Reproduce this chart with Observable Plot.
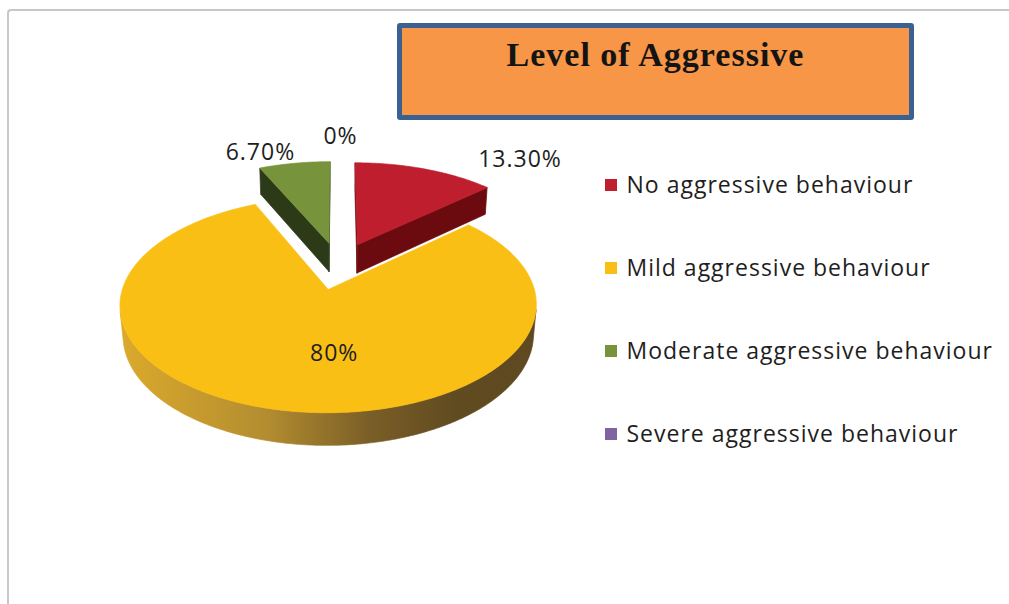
<!DOCTYPE html>
<html>
<head>
<meta charset="utf-8">
<script src="https://cdn.jsdelivr.net/npm/d3@7"></script>
<script src="https://cdn.jsdelivr.net/npm/@observablehq/plot@0.6"></script>
<style>
  html, body { margin: 0; padding: 0; background: #ffffff; }
  #wrap { position: relative; width: 1009px; height: 604px; overflow: hidden; }
  #frame { position: absolute; left: 7px; top: 9px; width: 1100px; height: 700px;
           border-left: 2px solid #c8c8c8; border-top: 2px solid #c8c8c8; border-top-left-radius: 4px; }
  #chart { position: absolute; left: 0; top: 0; }
  #title { position: absolute; left: 397px; top: 23px; width: 507px; height: 87px;
           border: 5px solid #3B6192; border-radius: 3px; background: #F79646; text-align: center;
           font-family: "Liberation Serif", serif; font-weight: bold; font-size: 34px; line-height: 34px;
           letter-spacing: 1px; color: #141414; }
  #title span { display: block; padding-top: 10px; }
</style>
</head>
<body>
<div id="wrap">
  <div id="frame"></div>
  <div id="chart"></div>
  <div id="title"><span>Level of Aggressive</span></div>
</div>
<script>
// ---- data ----
const categories = ["No aggressive behaviour", "Mild aggressive behaviour", "Moderate aggressive behaviour", "Severe aggressive behaviour"];
const percentValues = [13.3, 80, 6.7, 0];
const percentLabels = ["13.30%", "80%", "6.70%", "0%"];

// ---- styles ----
const topColors = ["#BE1E2D", "#FABF15", "#77933C", "#8064A2"];
const sideColors = ["#6C0B0F", "url(#mildSide)", "#2D3A18", "#3F3151"];

// ---- layout (3D view of the pie) ----
const view = {cx: 338, cy: 265, focal: 1235, dist: 6.2, tilt: Math.asin(0.495), depth: 0.17, explode: 0.24};
const labelNudge = [[95, -9], [32, 3], [-34, -11], [2, -25]];
const legend = {x: 605, box: 12, y0: 185, step: 83, gap: 9};
const textFont = "Open Sans";

const sinT = Math.sin(view.tilt), cosT = Math.cos(view.tilt);
function project([X, Y, Z]) {
  const yc = Y * cosT + Z * sinT;
  const zc = -Y * sinT + Z * cosT + view.dist;
  return {x: view.cx + view.focal * X / zc, y: view.cy - view.focal * yc / zc};
}

const arcs = d3.pie().sort(null).value(d => d)(percentValues);
const slices = arcs.map((a, i) => {
  const mid = (a.startAngle + a.endAngle) / 2;
  return {i, a0: a.startAngle, a1: a.endAngle, mid,
          ox: view.explode * Math.sin(mid), oz: view.explode * Math.cos(mid)};
});
const rim = (s, t, Y, r = 1) => [s.ox + r * Math.sin(t), Y, s.oz + r * Math.cos(t)];

const faces = [];
const STEP = Math.PI / 360;
const Dz = view.dist * cosT;
for (const s of [...slices].sort((a, b) => b.oz - a.oz)) {
  if (s.a1 - s.a0 <= 0) continue;
  const ts = d3.range(s.a0, s.a1, STEP).concat([s.a1]);
  const c0 = [s.ox, 0, s.oz], c1 = [s.ox, -view.depth, s.oz];
  const dotS = s.ox * Math.cos(s.a0) - Math.sin(s.a0) * (Dz + s.oz);
  if (dotS > 0) faces.push({color: sideColors[s.i],
    pts: [c0, rim(s, s.a0, 0), rim(s, s.a0, -view.depth), c1].map(project)});
  const dotE = -s.ox * Math.cos(s.a1) + Math.sin(s.a1) * (Dz + s.oz);
  if (dotE > 0) faces.push({color: sideColors[s.i],
    pts: [c0, rim(s, s.a1, 0), rim(s, s.a1, -view.depth), c1].map(project)});
  const vis = ts.filter(t => -Math.sin(t) * s.ox - Math.cos(t) * (Dz + s.oz) - 1 > 0);
  if (vis.length > 1) faces.push({color: sideColors[s.i], outer: true,
    pts: vis.map(t => project(rim(s, t, 0))).concat(vis.slice().reverse().map(t => project(rim(s, t, -view.depth))))});
  faces.push({color: topColors[s.i], pts: [project(c0), ...ts.map(t => project(rim(s, t, 0)))]});
}

const labelRows = slices.map(s => {
  const inside = percentValues[s.i] >= 50;
  const p = project(rim(s, s.mid, 0, inside ? 0.55 : 1));
  return {text: percentLabels[s.i], x: p.x + labelNudge[s.i][0], y: p.y + labelNudge[s.i][1]};
});

const legendRows = categories.map((c, i) => ({name: c, color: topColors[i], y: legend.y0 + i * legend.step}));

const plot = Plot.plot({
  width: 1009, height: 604, margin: 0,
  x: {domain: [0, 1009], range: [0, 1009], axis: null},
  y: {domain: [0, 604], range: [0, 604], axis: null},
  color: {type: "identity"},
  style: {background: "transparent", overflow: "visible"},
  marks: [
    ...faces.map(f => Plot.line(f.pts, {x: "x", y: "y", fill: f.color, stroke: f.color, strokeWidth: 0.7, curve: "linear-closed"})),
    Plot.text(labelRows, {x: "x", y: "y", text: "text", fontSize: 23, fontFamily: textFont, fill: "#1e1e1e"}),
    Plot.rect(legendRows, {x1: () => legend.x, x2: () => legend.x + legend.box,
      y1: d => d.y - legend.box / 2, y2: d => d.y + legend.box / 2, fill: "color"}),
    Plot.text(legendRows, {x: () => legend.x + legend.box + legend.gap, y: "y", text: "name", textAnchor: "start",
      fontSize: 23, fontFamily: textFont, fill: "#1e1e1e"})
  ]
});

// gradient for the curved side of the big slice
const outer = faces.find(f => f.outer);
const xs = plot.scale("x");
const defs = d3.select(plot).insert("defs", ":first-child");
const grad = defs.append("linearGradient").attr("id", "mildSide").attr("gradientUnits", "userSpaceOnUse")
  .attr("x1", xs.apply(d3.min(outer.pts, p => p.x))).attr("x2", xs.apply(d3.max(outer.pts, p => p.x)))
  .attr("y1", 0).attr("y2", 0);
[[0, "#DBA92C"], [0.35, "#B38D30"], [0.6, "#7A5E27"], [0.8, "#614B21"], [1, "#5E4920"]]
  .forEach(([o, c]) => grad.append("stop").attr("offset", o).attr("stop-color", c));
d3.select(plot).selectAll("text").style("letter-spacing", "1px");

document.getElementById("chart").appendChild(plot);
</script>
</body>
</html>
